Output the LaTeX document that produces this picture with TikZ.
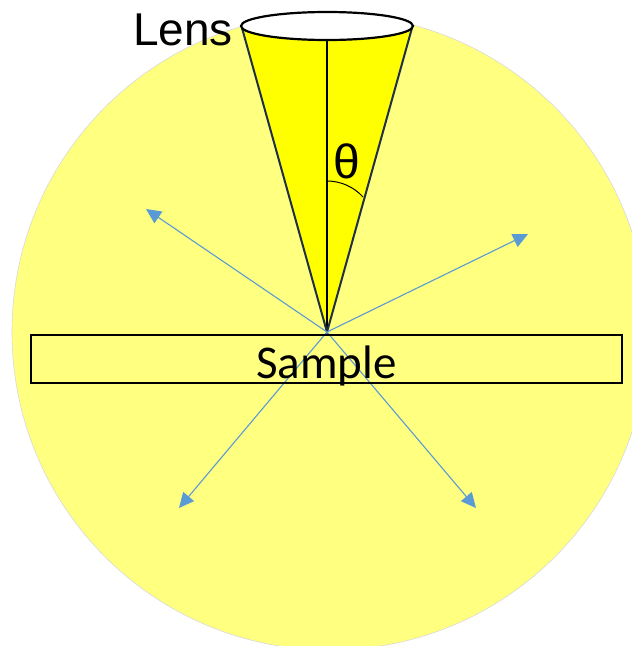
\documentclass[tikz,border=0pt]{standalone}
\usepackage{fontspec}
\setmainfont{Liberation Sans}
\newfontfamily\calib{Carlito}
\usetikzlibrary{arrows.meta}
\definecolor{pale}{HTML}{FFFF80}
\definecolor{conefill}{HTML}{FFFF00}
\definecolor{ray}{HTML}{5B9BD5}
\definecolor{edgecol}{HTML}{1F2F45}
\tikzset{
  raylink/.style={draw=ray, line width=1.1pt, -{Triangle[length=15pt,width=14pt]}},
  coneedge/.style={draw=edgecol, line width=2pt},
  bigtext/.style={inner sep=0pt, font=\fontsize{46}{52}\selectfont}
}
\begin{document}
\begin{tikzpicture}[x=1pt,y=-1pt]
\useasboundingbox (0,0) rectangle (632,646);
\clip (0,0) rectangle (632,646);
% named points
\coordinate (center) at (330,332);
\coordinate (apex) at (327,332);
\coordinate (lensL) at (242,28);
\coordinate (lensR) at (412,28);
\coordinate (lensC) at (327,26);
\coordinate (lensB) at (327,40);
\coordinate (ul) at (146,209);
\coordinate (ur) at (528,234);
\coordinate (ll) at (179,508);
\coordinate (lr) at (476,508);
% background disc
\fill[pale, draw=gray!30, line width=0.6pt] (center) circle [radius=318pt];
% cone
\fill[conefill] (lensL) -- (apex) -- (lensR) -- cycle;
\draw[black, line width=1.2pt] (lensB) -- (apex);
\draw[black, line width=1pt] (327,181) arc [start angle=90, end angle=42, radius=48.5pt];
\draw[coneedge] (lensL) -- (apex) -- (lensR);
\draw[black, fill=white, line width=2.2pt] (lensC) ellipse [x radius=86pt, y radius=14pt];
% rays
\draw[raylink] (apex) -- (ul);
\draw[raylink] (apex) -- (ur);
\draw[raylink] (apex) -- (ll);
\draw[raylink] (apex) -- (lr);
% sample
\node[draw=black, line width=2pt, minimum width=591pt, minimum height=48pt, inner sep=0pt] (sample) at (326.5,359) {};
\node[bigtext, font=\calib\fontsize{47}{52}\selectfont, anchor=base] (sampletext) at (326.5,378) {Sample};
% labels
\node[bigtext, anchor=base east] (lens) at (233,45) {Lens};
\node[inner sep=0pt, font=\fontsize{48}{54}\selectfont] (theta) at (347,161) {θ};
\end{tikzpicture}
\end{document}
